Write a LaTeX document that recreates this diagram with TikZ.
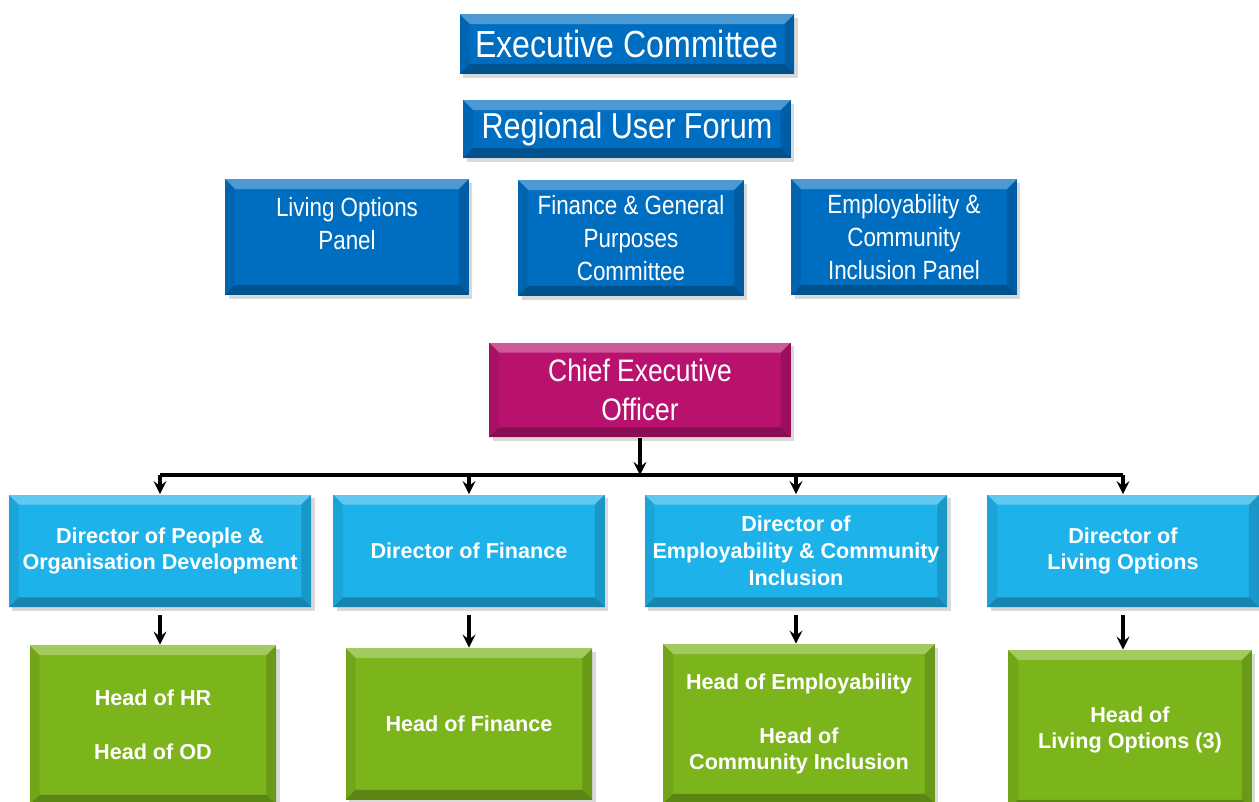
\documentclass[tikz,border=0pt]{standalone}
\usepackage{fontspec}
\setmainfont{Liberation Sans}
\newfontfamily\narrowfont{Liberation Sans}[FakeStretch=0.85]
\usetikzlibrary{calc,shadows,positioning}
\definecolor{boardblue}{RGB}{0,110,192}
\definecolor{ceopink}{RGB}{184,18,110}
\definecolor{dirblue}{RGB}{30,178,234}
\definecolor{headgreen}{RGB}{124,180,28}
\newcommand{\bevelsides}{%
  \fill[white,opacity=.3] (path picture bounding box.north west) -- (path picture bounding box.north east)
    -- ($(path picture bounding box.north east)+(-10,10)$) -- ($(path picture bounding box.north west)+(10,10)$) -- cycle;
  \fill[black,opacity=.08] (path picture bounding box.north west) -- ($(path picture bounding box.north west)+(10,10)$)
    -- ($(path picture bounding box.south west)+(10,-10)$) -- (path picture bounding box.south west) -- cycle;
  \fill[black,opacity=.15] (path picture bounding box.north east) -- ($(path picture bounding box.north east)+(-10,10)$)
    -- ($(path picture bounding box.south east)+(-10,-10)$) -- (path picture bounding box.south east) -- cycle;
  \fill[black,opacity=.25] (path picture bounding box.south west) -- ($(path picture bounding box.south west)+(10,-10)$)
    -- ($(path picture bounding box.south east)+(-10,-10)$) -- (path picture bounding box.south east) -- cycle;}
\tikzstyle{box}=[rectangle,inner sep=2pt,text=white,align=center,path picture={\bevelsides},
  drop shadow={opacity=.3,shadow xshift=2pt,shadow yshift=-2pt}]
\tikzstyle{board}=[box,fill=boardblue,font=\narrowfont\fontsize{15}{18.7}\selectfont]
\tikzstyle{ceo}=[box,fill=ceopink,font=\narrowfont\fontsize{17.7}{22}\selectfont]
\tikzstyle{director}=[box,fill=dirblue,minimum height=2.26cm,font=\bfseries\fontsize{12.3}{15.3}\selectfont]
\tikzstyle{head}=[box,fill=headgreen,font=\bfseries\fontsize{12.3}{15.3}\selectfont]
\tikzstyle{link}=[->,line width=2.2pt]

\begin{document}
\begin{tikzpicture}[x=0.02cm, y=-0.02cm, >=stealth]
  \clip (0,0) rectangle (1259,802);

  % board and panels
  \node[board, minimum width=6.7cm, minimum height=1.2cm, font=\narrowfont\fontsize{21.5}{25}\selectfont] (exec) at (627,44) {Executive Committee};
  \node[board, minimum width=6.56cm, minimum height=1.16cm, font=\narrowfont\fontsize{20.5}{24}\selectfont] (forum) at (627,129) {Regional User Forum};
  \node[board, minimum width=4.88cm, minimum height=2.32cm, text depth=0.54cm] (lop) at (347,237) {Living Options\\Panel};
  \node[board, minimum width=4.52cm, minimum height=2.32cm] (fgp) at (631,238) {Finance \& General\\Purposes\\Committee};
  \node[board, minimum width=4.52cm, minimum height=2.32cm] (ecip) at (904,237) {Employability \&\\Community\\Inclusion Panel};

  % staff
  \node[ceo, minimum width=6.04cm, minimum height=1.9cm] (ceo) at (640,390) {Chief Executive\\Officer};
  \coordinate (bus) at (640,475);

  \node[director, minimum width=6.06cm] (d1) at (160,551) {Director of People \&\\Organisation Development};
  \node[director, minimum width=5.44cm] (d2) at (469,551) {Director of Finance};
  \node[director, minimum width=6.06cm] (d3) at (796,551) {Director of\\Employability \& Community\\Inclusion};
  \node[director, minimum width=5.44cm] (d4) at (1123,551) {Director of\\Living Options};

  \node[head, minimum width=4.94cm, minimum height=3.2cm] (h1) at (153,725) {Head of HR\\[15.3pt]Head of OD};
  \node[head, minimum width=4.94cm, minimum height=3.04cm] (h2) at (469,724) {Head of Finance};
  \node[head, minimum width=5.44cm, minimum height=3.2cm] (h3) at (799,724) {Head of Employability\\[15.3pt]Head of\\Community Inclusion};
  \node[head, minimum width=4.88cm, minimum height=3.2cm] (h4) at (1130,730) {Head of\\Living Options (3)};

  \draw[link] (ceo) -- (ceo |- bus);
  \draw[line width=2.2pt] (d1 |- bus) -- (d4 |- bus);
  \foreach \d in {d1,d2,d3,d4}
    \draw[link] (\d |- bus) -- (\d.north);
  \foreach \d/\h in {d1/h1,d2/h2,d3/h3,d4/h4}
    \draw[link, shorten <=4pt] (\d.south) -- (\d.south |- \h.north);
\end{tikzpicture}
\end{document}
